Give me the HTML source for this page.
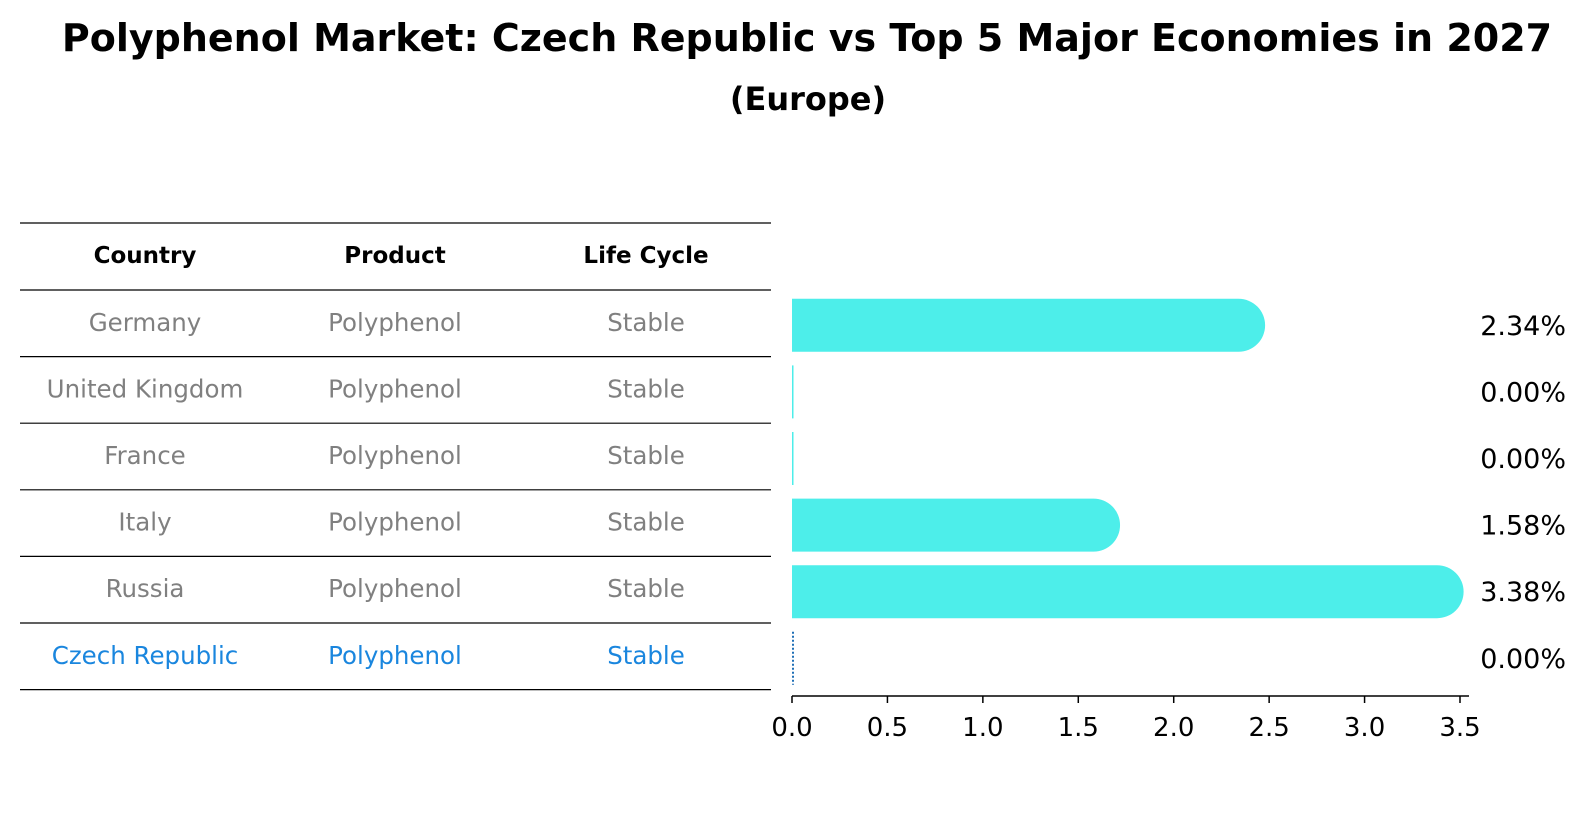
<!DOCTYPE html>
<html><head><meta charset="utf-8"><style>
body{margin:0;background:#fff;font-family:"DejaVu Sans","Liberation Sans",sans-serif}
svg text{font-family:"DejaVu Sans","Liberation Sans",sans-serif}
</style></head><body>
<svg id="chart" width="1589" height="823" xmlns="http://www.w3.org/2000/svg">
<text x="807" y="38" dominant-baseline="central" text-anchor="middle" font-size="38" font-weight="bold">Polyphenol Market: Czech Republic vs Top 5 Major Economies in 2027</text>
<text x="808" y="99" dominant-baseline="central" text-anchor="middle" font-size="32" font-weight="bold">(Europe)</text>
<g id="table"></g>
<g id="bars"></g>
</svg>
<script>
const countries=["Germany","United Kingdom","France","Italy","Russia","Czech Republic"];
const products=["Polyphenol","Polyphenol","Polyphenol","Polyphenol","Polyphenol","Polyphenol"];
const lifeCycles=["Stable","Stable","Stable","Stable","Stable","Stable"];
const values=[2.34,0.00,0.00,1.58,3.38,0.00];
const ticks=[0,0.5,1,1.5,2,2.5,3,3.5];
const tickLabels=["0.0","0.5","1.0","1.5","2.0","2.5","3.0","3.5"];

const NS="http://www.w3.org/2000/svg";
function mk(tag,attrs,parent,txt){const e=document.createElementNS(NS,tag);for(const k in attrs)e.setAttribute(k,attrs[k]);if(txt!==undefined)e.textContent=txt;parent.appendChild(e);return e;}
const x0=792,x1=1460;
const xs=v=>x0+(x1-x0)*v/3.5;
const rowTop=290,rowH=66.6;
const yc=i=>rowTop+rowH*(i+0.5);
const tbl=document.getElementById('table'),bars=document.getElementById('bars');
const hdr=["Country","Product","Life Cycle"],colX=[145,395,646];
let l=mk('line',{x1:20,x2:771,y1:223,y2:223,stroke:'#000','stroke-width':1.2},tbl);


hdr.forEach((h,j)=>{const t=mk('text',{x:colX[j],y:256,'dominant-baseline':'central','text-anchor':'middle','font-size':23,'font-weight':'bold'},tbl,h);

});
countries.forEach((c,i)=>{
 const ln=mk('line',{x1:20,x2:771,y1:rowTop+rowH*i,y2:rowTop+rowH*i,stroke:'#000','stroke-width':1.2},tbl);
 
 
 const col=i===countries.length-1?'#1a86de':'#808080';
 [c,products[i],lifeCycles[i]].forEach((v,j)=>{const t=mk('text',{x:colX[j],y:yc(i)-1,'dominant-baseline':'central','text-anchor':'middle','font-size':24.5,fill:col},tbl,v);
 
 });
});
const lb=mk('line',{x1:20,x2:771,y1:rowTop+rowH*6,y2:rowTop+rowH*6,stroke:'#000','stroke-width':1.2},tbl);


const bh=53;
values.forEach((v,i)=>{
 const y=yc(i)+2;
 if(i===values.length-1){
  const d=mk('line',{x1:xs(0)+1,x2:xs(0)+1,y1:y-bh/2,y2:y+bh/2,stroke:'#1f6fb5','stroke-width':2,'stroke-dasharray':'2,2'},bars);
  
  
 } else if(v>0){
  const p=mk('path',{d:`M${xs(0)},${y-bh/2} H${xs(v)} A${bh/2},${bh/2} 0 0 1 ${xs(v)},${y+bh/2} H${xs(0)} Z`,fill:'#4deeea'},bars);
  
  
 } else {
  const p=mk('rect',{x:xs(0),y:y-bh/2,width:1.5,height:bh,fill:'#4deeea'},bars);
  
  
 }
 const t=mk('text',{x:1566,y:y+1,'dominant-baseline':'central','text-anchor':'end','font-size':27},bars,v.toFixed(2)+'%');
 
 
});
const ax=mk('line',{x1:xs(0),x2:1469,y1:696,y2:696,stroke:'#000','stroke-width':1.5},bars);


ticks.forEach((v,i)=>{
 const tk=mk('line',{x1:xs(v),x2:xs(v),y1:696,y2:703,stroke:'#000','stroke-width':1.5},bars);
 
 
 const t=mk('text',{x:xs(v),y:728,'dominant-baseline':'central','text-anchor':'middle','font-size':26},bars,tickLabels[i]);
 
 
});
</script>
</body></html>
